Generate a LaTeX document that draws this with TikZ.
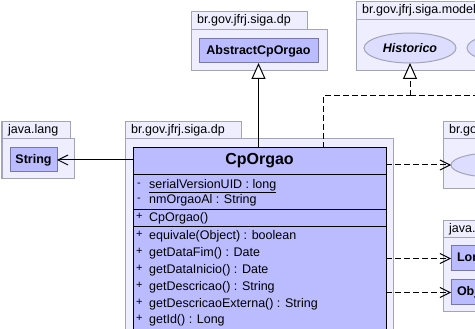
\documentclass[tikz,border=0pt]{standalone}
\usepackage{fontspec}
\setmainfont{Liberation Sans}
\usetikzlibrary{arrows.meta,shapes.geometric}
\definecolor{pkgfill}{HTML}{EEEEFF}
\definecolor{pkgline}{HTML}{A4A4B8}
\definecolor{clsfill}{HTML}{BBBBFF}
\definecolor{clsline}{HTML}{7878A8}
\definecolor{ifcfill}{HTML}{DDDDFF}
\tikzset{
  pkgbox/.style={fill=pkgfill, draw=pkgline, line width=1pt},
  pkglabel/.style={anchor=mid west, inner sep=0pt, font=\fontsize{12.5}{14}\selectfont},
  clsbox/.style={fill=clsfill, draw=clsline, line width=1pt, inner sep=0pt, outer sep=0pt,
    font=\bfseries\fontsize{12.5}{14}\selectfont},
  ifc/.style={ellipse, fill=ifcfill, draw=pkgline, line width=1pt, minimum width=92pt,
    minimum height=30pt, inner sep=0pt, outer sep=0pt, font=\bfseries\itshape\fontsize{12.5}{14}\selectfont},
  member/.style={anchor=mid west, inner sep=0pt, font=\fontsize{12.5}{14}\selectfont},
  vis/.style={anchor=mid west, inner sep=0pt, font=\fontsize{11}{13}\selectfont},
  extends/.style={-{Triangle[open,length=16pt,width=14pt,fill=white]}, line width=1pt},
  realizes/.style={extends, dash pattern=on 6pt off 3pt},
  depends/.style={-{Straight Barb[length=10pt,width=10pt]}, line width=1pt, dash pattern=on 6pt off 3pt},
  assoc/.style={-{Straight Barb[length=10pt,width=10pt]}, line width=1pt},
}
\begin{document}
\begin{tikzpicture}[x=1pt,y=-1pt]
\useasboundingbox (0,0) rectangle (475,329);
\clip (0,0) rectangle (475,329);
\fill[white] (0,0) rectangle (475,329);

% packages
\draw[pkgbox] (191,12) rectangle (307,30);
\draw[pkgbox] (191,30) rectangle (327,71);
\node[pkglabel] (pdpa) at (197,21) {br.gov.jfrj.siga.dp};

\draw[pkgbox] (356,2) rectangle (490,20);
\draw[pkgbox] (356,20) rectangle (490,71);
\node[pkglabel] (pmodel) at (362,11) {br.gov.jfrj.siga.model};

\draw[pkgbox] (2,122) rectangle (70,139);
\draw[pkgbox] (2,139) rectangle (74,179);
\node[pkglabel] (pjl) at (8,130.5) {java.lang};

\draw[pkgbox] (125,122) rectangle (241,139);
\draw[pkgbox] (125,139) rectangle (393,345);
\node[pkglabel] (pdp) at (131,130.5) {br.gov.jfrj.siga.dp};

\draw[pkgbox] (443,122) rectangle (490,139);
\draw[pkgbox] (443,139) rectangle (490,189);
\node[pkglabel] (pbr) at (449,130.5) {br.gov.jfrj.siga};

\draw[pkgbox] (443,221) rectangle (490,238);
\draw[pkgbox] (443,238) rectangle (490,312);
\node[pkglabel] (pjava) at (449,229.5) {java.lang};

% classes and interfaces
\node[clsbox, minimum width=119pt, minimum height=24pt] (abs) at (258.5,51) {AbstractCpOrgao};
\node[ifc] (hist) at (410,48) {Historico};
\node[ifc] (ifc2) at (513,48) {};
\node[ifc, minimum height=25pt] (ifc3) at (497,165) {};
\node[clsbox, minimum width=47pt, minimum height=24pt] (str) at (33.5,160) {String};
\node[clsbox, anchor=west, inner xsep=6pt, minimum height=25pt] (lng) at (451,258.5) {Long};
\node[clsbox, anchor=west, inner xsep=6pt, minimum height=25pt] (obj) at (451,292.5) {Object};

% CpOrgao class
\node[clsbox, draw=black, anchor=north west, minimum width=253pt, minimum height=200pt] (cp) at (133,148) {};
\node[inner sep=0pt, font=\bfseries\fontsize{16}{18}\selectfont] (cpname) at (259.5,161) {CpOrgao};
\draw[line width=1pt] (cp.west |- 0,175) -- (cp.east |- 0,175);
\draw[line width=1pt] (cp.west |- 0,210) -- (cp.east |- 0,210);
\draw[line width=1pt] (cp.west |- 0,227) -- (cp.east |- 0,227);

\node[vis] (v1) at (137,184) {-};
\node[member] (m1) at (149,186) {\underline{serialVersionUID : long}};
\node[vis] (v2) at (137,199) {-};
\node[member] (m2) at (149,201) {nmOrgaoAl : String};
\node[vis] (v3) at (136,217) {+};
\node[member] (m3) at (149,219) {CpOrgao()};
\node[vis] (v4) at (136,235) {+};
\node[member] (m4) at (149,237) {equivale(Object) : boolean};
\node[vis] (v5) at (136,252) {+};
\node[member] (m5) at (149,254) {getDataFim() : Date};
\node[vis] (v6) at (136,269) {+};
\node[member] (m6) at (149,271) {getDataInicio() : Date};
\node[vis] (v7) at (136,286) {+};
\node[member] (m7) at (149,288) {getDescricao() : String};
\node[vis] (v8) at (136,303) {+};
\node[member] (m8) at (149,305) {getDescricaoExterna() : String};
\node[vis] (v9) at (136,319) {+};
\node[member] (m9) at (149,321) {getId() : Long};

% connectors
\coordinate (bend) at (323,96);
\coordinate (offright) at (490,96);
\draw[extends] (cp.north -| abs.south) -- (abs.south);
\draw[dash pattern=on 6pt off 3pt, line width=1pt] (cp.north -| bend) -- (bend) -- (bend -| hist.south);
\draw[realizes] (bend -| hist.south) -- (hist.south);
\draw[dash pattern=on 6pt off 3pt, line width=1pt] (bend -| hist.south) -- (offright);
\draw[assoc] (cp.west |- str.east) -- (str.east);
\draw[depends] (cp.east |- ifc3.west) -- (ifc3.west);
\draw[depends] (cp.east |- lng.west) -- (lng.west);
\draw[depends] (cp.east |- obj.west) -- (obj.west);
\end{tikzpicture}
\end{document}
